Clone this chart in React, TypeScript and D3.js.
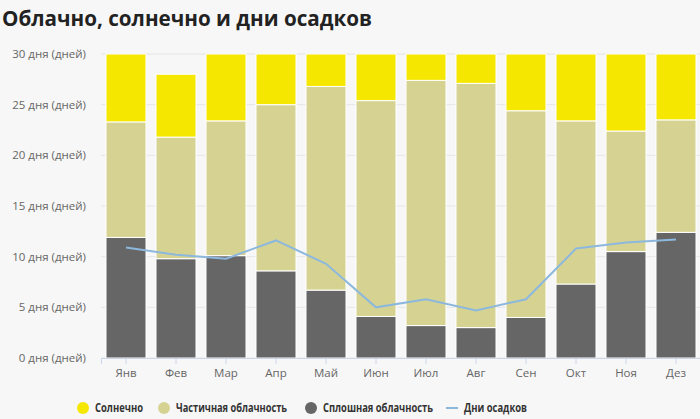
import React, { useRef, useEffect } from 'react';
import { select, scaleBand, scaleLinear, line, axisBottom } from 'd3';

const months = ['Янв', 'Фев', 'Мар', 'Апр', 'Май', 'Июн', 'Июл', 'Авг', 'Сен', 'Окт', 'Ноя', 'Дез'];
const overcast = [11.9, 9.8, 10.1, 8.6, 6.7, 4.1, 3.2, 3.0, 4.0, 7.3, 10.5, 12.4];
const partly = [11.4, 12.0, 13.3, 16.4, 20.1, 21.3, 24.2, 24.1, 20.4, 16.1, 11.9, 11.1];
const sunny = [6.7, 6.2, 6.6, 5.0, 3.2, 4.6, 2.6, 2.9, 5.6, 6.6, 7.6, 6.5];
const precipDays = [10.9, 10.2, 9.8, 11.6, 9.3, 5.0, 5.8, 4.7, 5.8, 10.8, 11.4, 11.7];
const yTicks = [0, 5, 10, 15, 20, 25, 30];

const W = 700;
const H = 419;
const FONT = '"Open Sans", "DejaVu Sans", sans-serif';

export default function App() {
  const svgRef = useRef<SVGSVGElement>(null);

  useEffect(() => {
    const svg = select(svgRef.current);
    svg.selectAll('*').remove();

    const left = 101, right = 701, top = 54, bottom = 358;

    svg.append('rect').attr('width', W).attr('height', H).attr('fill', '#f7f7f7');

    svg.append('text')
      .attr('x', 2).attr('y', 26)
      .attr('font-family', FONT).attr('font-weight', 700).attr('font-size', 20.5)
      .attr('textLength', 370).attr('lengthAdjust', 'spacingAndGlyphs')
      .attr('fill', '#222')
      .text('Облачно, солнечно и дни осадков');

    const x = scaleBand().domain(months).range([left, right]).paddingInner(0.2).paddingOuter(0.1);
    const y = scaleLinear().domain([0, 30]).range([bottom, top]);

    // grid + y labels
    const grid = svg.append('g');
    yTicks.forEach(t => {
      grid.append('line')
        .attr('x1', left).attr('x2', right)
        .attr('y1', y(t)).attr('y2', y(t))
        .attr('stroke', '#e6e6e6');
      grid.append('text')
        .attr('x', 86).attr('y', y(t)).attr('dy', '0.35em')
        .attr('text-anchor', 'end')
        .attr('font-family', FONT).attr('font-size', 11.5).attr('fill', '#666')
        .text(`${t} дня (дней)`);
    });

    // stacked bars
    const layers = [
      { values: overcast, base: () => 0, color: '#666666' },
      { values: partly, base: (i: number) => overcast[i], color: '#d6d392' },
      { values: sunny, base: (i: number) => overcast[i] + partly[i], color: '#f5e700' },
    ];
    layers.forEach(layer => {
      svg.append('g')
        .selectAll('rect')
        .data(layer.values)
        .join('rect')
        .attr('x', (_, i) => x(months[i])!)
        .attr('width', x.bandwidth())
        .attr('y', (d, i) => y(layer.base(i) + d))
        .attr('height', (d, i) => y(layer.base(i)) - y(layer.base(i) + d))
        .attr('fill', layer.color)
        .attr('stroke', '#ffffff')
        .attr('stroke-width', 1);
    });

    // x axis
    const xAxis = axisBottom(x).tickSize(6).tickPadding(5);
    const gx = svg.append('g').attr('transform', `translate(0,${bottom})`).call(xAxis);
    gx.select('.domain').attr('stroke', '#ccd6eb');
    gx.selectAll('.tick line').attr('stroke', '#ccd6eb');
    gx.selectAll('.tick text')
      .attr('font-family', FONT).attr('font-size', 11.5).attr('fill', '#666');

    // precipitation line
    const ln = line<number>()
      .x((_, i) => x(months[i])! + x.bandwidth() / 2)
      .y(d => y(d));
    svg.append('path')
      .datum(precipDays)
      .attr('d', ln)
      .attr('fill', 'none')
      .attr('stroke', '#8db8dd')
      .attr('stroke-width', 2);

    // legend
    const legend = [
      { label: 'Солнечно', color: '#f5e700', type: 'dot', x: 83, w: 48 },
      { label: 'Частичная облачность', color: '#d6d392', type: 'dot', x: 164, w: 111 },
      { label: 'Сплошная облачность', color: '#666666', type: 'dot', x: 311, w: 110 },
      { label: 'Дни осадков', color: '#8db8dd', type: 'line', x: 452, w: 63 },
    ];
    const ly = 408;
    const lg = svg.append('g');
    legend.forEach(item => {
      if (item.type === 'dot') {
        lg.append('circle').attr('cx', item.x).attr('cy', ly).attr('r', 6).attr('fill', item.color);
      } else {
        lg.append('line')
          .attr('x1', item.x - 6).attr('x2', item.x + 6)
          .attr('y1', ly).attr('y2', ly)
          .attr('stroke', item.color).attr('stroke-width', 2);
      }
      lg.append('text')
        .attr('x', item.x + 12).attr('y', ly).attr('dy', '0.35em')
        .attr('font-family', FONT).attr('font-weight', 700).attr('font-size', 12.5)
        .attr('textLength', item.w).attr('lengthAdjust', 'spacingAndGlyphs')
        .attr('fill', '#333')
        .text(item.label);
    });
  }, []);

  return (
    <svg ref={svgRef} width={W} height={H} style={{ display: 'block', position: 'absolute', left: 0, top: 0 }} />
  );
}
